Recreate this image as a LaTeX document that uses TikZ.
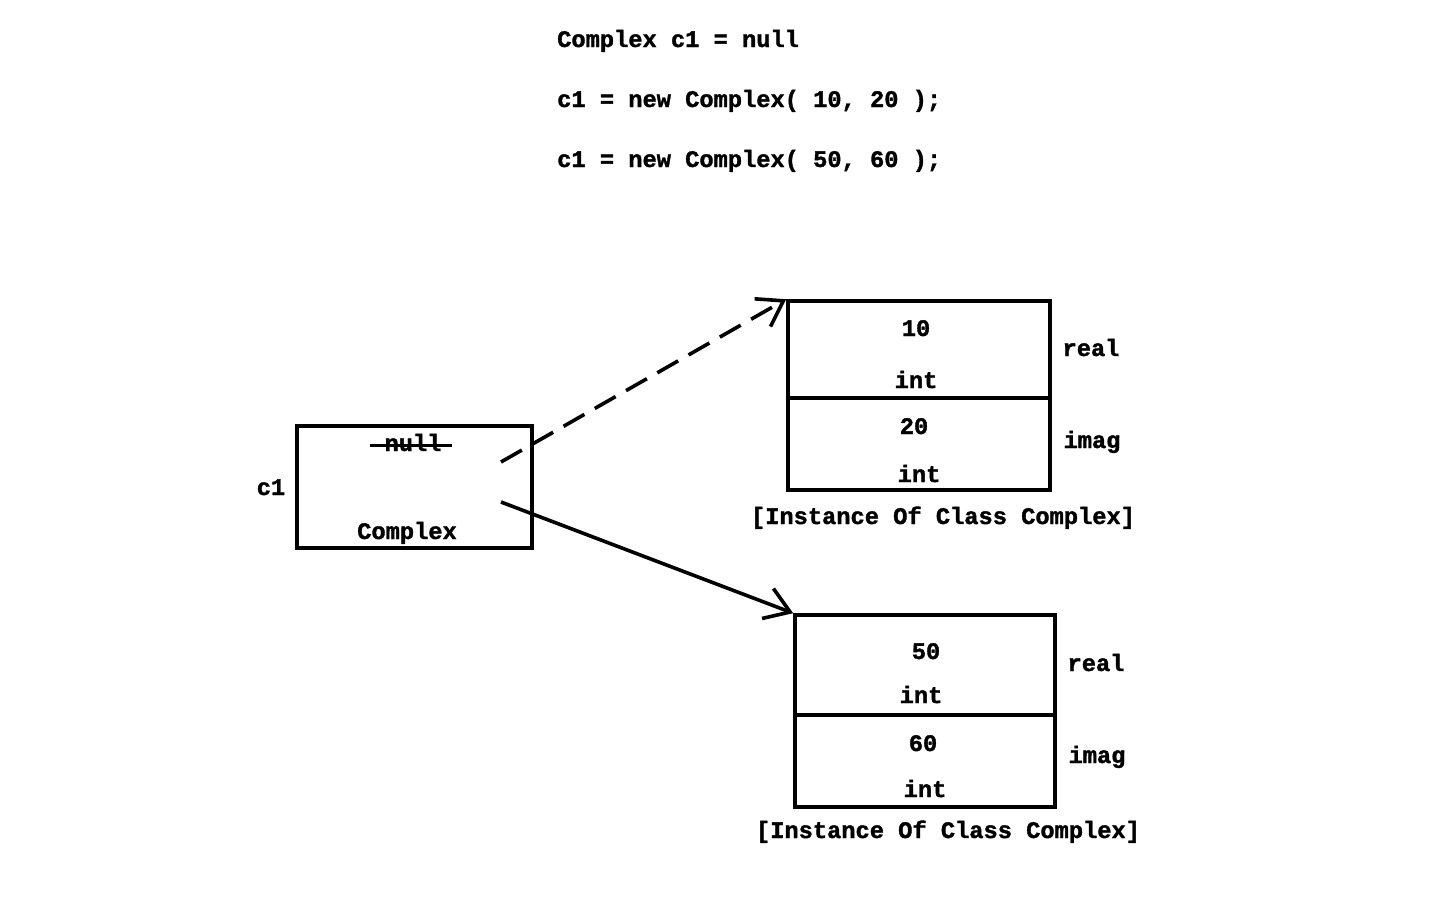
\documentclass[tikz,border=0pt]{standalone}
\usepackage{fontspec}
\setmonofont{Liberation Mono}[BoldFeatures={FakeBold=1.5}]
\usetikzlibrary{arrows.meta}
\begin{document}
\begin{tikzpicture}[x=1pt,y=-1pt,
  txt/.style={font=\fontsize{23.7}{28}\selectfont\ttfamily\bfseries, inner sep=0pt, anchor=base},
  code/.style={txt, anchor=base west},
  cell/.style={draw, line width=3.6pt, inner sep=0pt},
  conn/.style={line width=3.6pt, -{Straight Barb[length=24pt,width=32pt]}},
  strike/.style={line width=3pt}]
\fill[white] (0,0) rectangle (1440,900);
\useasboundingbox (0,0) rectangle (1440,900);

% code lines
\node[code] (l1) at (557,47) {Complex c1 = null};
\node[code] (l2) at (557,107) {c1 = new Complex( 10, 20 );};
\node[code] (l3) at (557,167) {c1 = new Complex( 50, 60 );};

% reference variable
\node[cell, minimum width=235pt, minimum height=122pt] (c1box) at (414.5,487) {};
\node[txt] (c1lbl) at (271,495) {c1};
\node[txt] (nulltxt) at (413,451) {null};
\coordinate (sA) at (370,445);
\coordinate (sB) at (452,445);
\draw[strike] (sA) -- (sB);
\node[txt] (ctype) at (407,539) {Complex};

% first instance
\node[cell, minimum width=262pt, minimum height=97pt] (r1) at (919,349.5) {};
\node[cell, minimum width=262pt, minimum height=92pt] (i1) at (919,444) {};
\node[txt] (v10) at (916,336) {10};
\node[txt] (t1a) at (916,388) {int};
\node[txt] (v20) at (914,434) {20};
\node[txt] (t1b) at (919,482) {int};
\node[txt] (real1) at (1091,356) {real};
\node[txt] (imag1) at (1092,448) {imag};
\node[txt] (inst1) at (943,524) {[Instance Of Class Complex]};

% second instance
\node[cell, minimum width=260pt, minimum height=100pt] (r2) at (925,665) {};
\node[cell, minimum width=260pt, minimum height=92pt] (i2) at (925,761) {};
\node[txt] (v50) at (926,659) {50};
\node[txt] (t2a) at (921,703) {int};
\node[txt] (v60) at (923,751) {60};
\node[txt] (t2b) at (925,797) {int};
\node[txt] (real2) at (1096,671) {real};
\node[txt] (imag2) at (1097,763) {imag};
\node[txt] (inst2) at (948,838) {[Instance Of Class Complex]};

% connectors
\coordinate (d0) at (501,462);
\coordinate (s0) at (501,502);
\draw[conn, dash pattern=on 24pt off 12pt] (d0) -- (r1.north west);
\draw[conn] (s0) -- (r2.north west);
\end{tikzpicture}
\end{document}
